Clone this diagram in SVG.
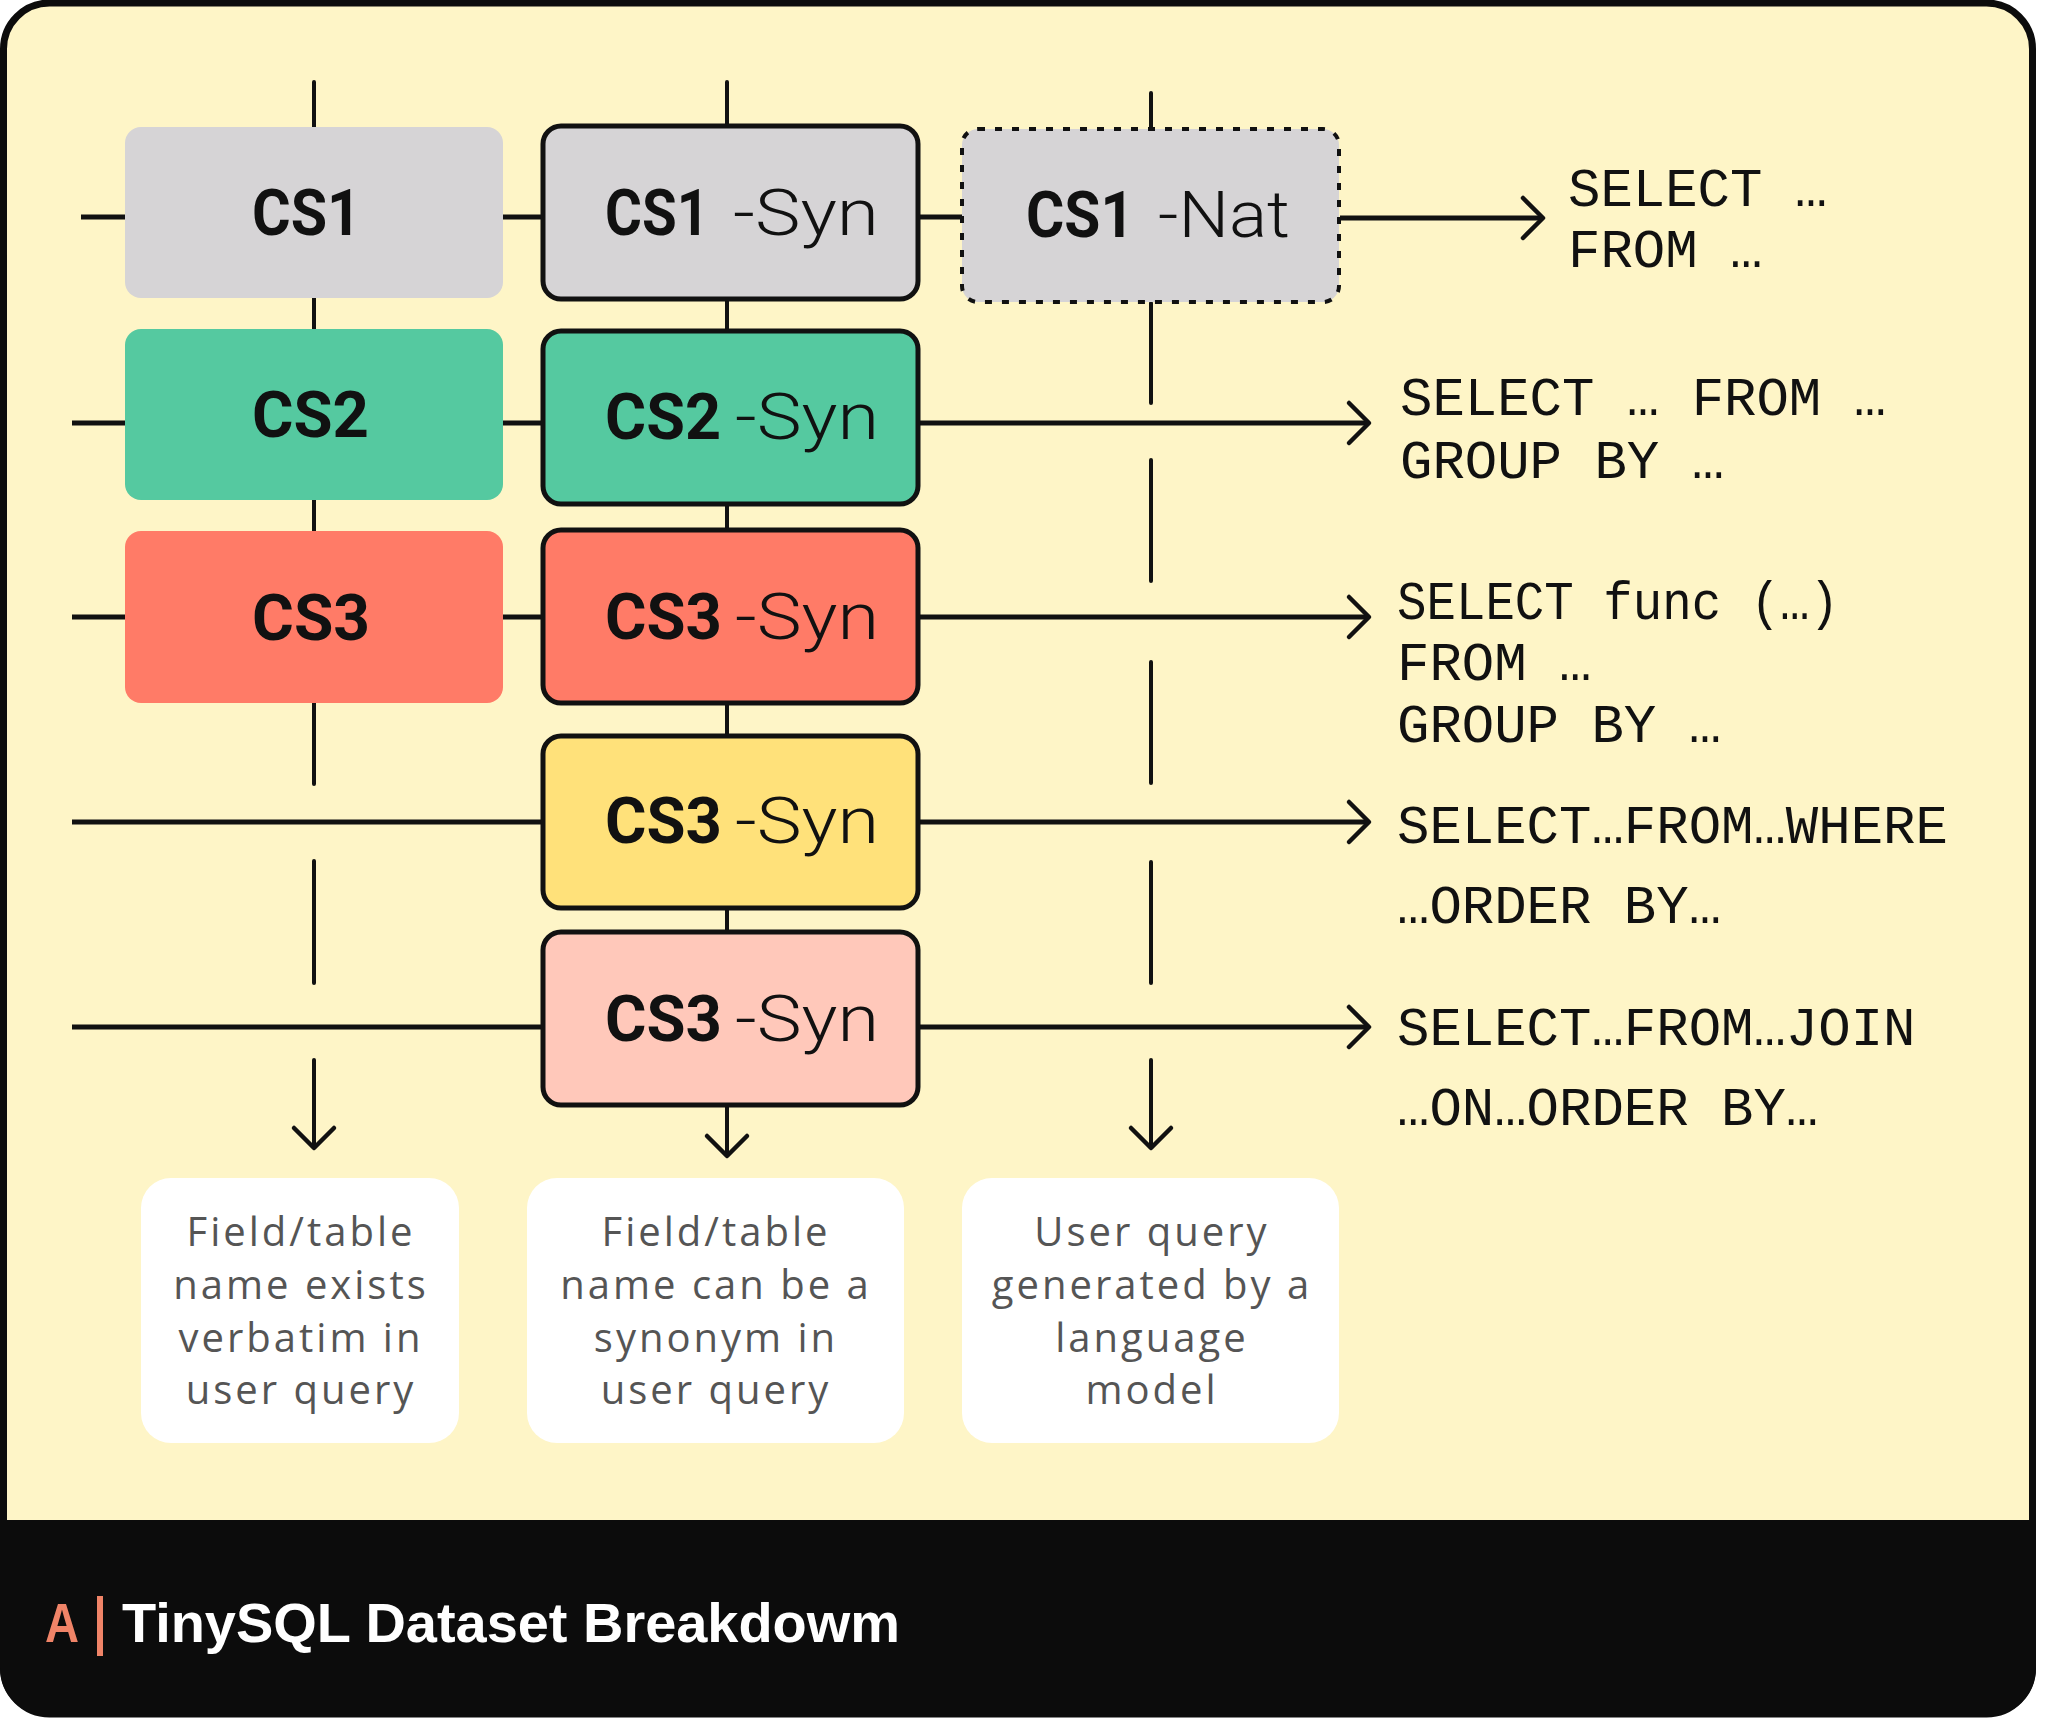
<svg xmlns="http://www.w3.org/2000/svg" width="2049" height="1718" viewBox="0 0 2049 1718">
<style>
.hl{stroke:#111;stroke-width:5;fill:none;stroke-linecap:butt}
.vl{stroke:#111;stroke-width:4;fill:none;stroke-linecap:round}
.hd{stroke:#111;stroke-width:4.5;fill:none;stroke-linecap:round;stroke-linejoin:round}
.sbox{stroke:#111;stroke-width:5}
.nat{stroke:#111;stroke-width:4;stroke-dasharray:7 10}
.cs{font-family:Roboto,"Liberation Sans",sans-serif;font-weight:700;font-size:64px;fill:#111}
.syn{font-family:Roboto,"Liberation Sans",sans-serif;font-weight:300;font-size:64px;fill:#111}
.sql{font-family:"Liberation Mono",monospace;font-size:54px;fill:#111}
.desc{font-family:"Open Sans",sans-serif;font-size:40px;letter-spacing:3px;fill:#555555;text-anchor:middle}
.gray{fill:#D6D4D6}
.teal{fill:#55C9A0}
.coral{fill:#FF7B67}
.yel{fill:#FFE17A}
.pink{fill:#FFC8BA}
</style>

<g id="frame">
<rect x="3.5" y="3" width="2029" height="1711" rx="46" fill="#FEF5C7" stroke="#0C0C0C" stroke-width="7"/>
<path d="M0 1520 H2036 V1668 A48 48 0 0 1 1988 1716 H48 A48 48 0 0 1 0 1668 Z" fill="#0C0C0C"/>
</g>

<g id="connectors">
<path class="vl" d="M314 82 V127 M314 298 V331 M314 500 V532 M314 703 V784 M314 861 V983 M314 1060 V1146"/>
<path class="hd" d="M294 1128 L314 1148 L334 1128"/>
<path class="vl" d="M727 82 V125 M727 300 V330 M727 505 V529 M727 704 V735 M727 909 V931 M727 1106 V1154"/>
<path class="hd" d="M707 1136 L727 1156 L747 1136"/>
<path class="vl" d="M1151 93 V128 M1151 303 V403 M1151 460 V581 M1151 662 V783 M1151 862 V983 M1151 1060 V1146"/>
<path class="hd" d="M1131 1128 L1151 1148 L1171 1128"/>
<path class="hl" d="M81 217 H125 M503 217 H541 M920 217 H962 M1340 218 H1541"/>
<path class="hd" d="M1523 198 L1543 218 L1523 238"/>
<path class="hl" d="M72 423 H125 M503 423 H541 M920 423 H1367"/>
<path class="hd" d="M1349 403 L1369 423 L1349 443"/>
<path class="hl" d="M72 617 H125 M503 617 H541 M920 617 H1367"/>
<path class="hd" d="M1349 597 L1369 617 L1349 637"/>
<path class="hl" d="M72 822 H541 M920 822 H1367"/>
<path class="hd" d="M1349 802 L1369 822 L1349 842"/>
<path class="hl" d="M72 1027 H541 M920 1027 H1367"/>
<path class="hd" d="M1349 1007 L1369 1027 L1349 1047"/>
</g>

<g id="cs1">
<rect class="gray" x="125" y="127" width="378" height="171" rx="16"/>
<text class="cs" x="252" y="235" textLength="109" lengthAdjust="spacingAndGlyphs">CS1</text>
</g>
<g id="cs2">
<rect class="teal" x="125" y="329" width="378" height="171" rx="16"/>
<text class="cs" x="252" y="437" textLength="117" lengthAdjust="spacingAndGlyphs">CS2</text>
</g>
<g id="cs3">
<rect class="coral" x="125" y="531" width="378" height="172" rx="16"/>
<text class="cs" x="252" y="640" textLength="118" lengthAdjust="spacingAndGlyphs">CS3</text>
</g>

<g id="cs1-syn">
<rect class="gray sbox" x="543" y="126" width="375" height="173" rx="18"/>
<text x="605" y="235"><tspan class="cs" textLength="104" lengthAdjust="spacingAndGlyphs">CS1</tspan><tspan class="syn" x="733" textLength="146" lengthAdjust="spacingAndGlyphs">-Syn</tspan></text>
</g>
<g id="cs2-syn">
<rect class="teal sbox" x="543" y="331" width="375" height="173" rx="18"/>
<text x="605" y="439"><tspan class="cs" textLength="116" lengthAdjust="spacingAndGlyphs">CS2</tspan><tspan class="syn" x="735" textLength="144" lengthAdjust="spacingAndGlyphs">-Syn</tspan></text>
</g>
<g id="cs3-syn">
<rect class="coral sbox" x="543" y="530" width="375" height="173" rx="18"/>
<text x="605" y="639"><tspan class="cs" textLength="117" lengthAdjust="spacingAndGlyphs">CS3</tspan><tspan class="syn" x="735" textLength="144" lengthAdjust="spacingAndGlyphs">-Syn</tspan></text>
</g>
<g id="cs3-syn-where">
<rect class="yel sbox" x="543" y="736" width="375" height="172" rx="18"/>
<text x="605" y="843"><tspan class="cs" textLength="117" lengthAdjust="spacingAndGlyphs">CS3</tspan><tspan class="syn" x="735" textLength="144" lengthAdjust="spacingAndGlyphs">-Syn</tspan></text>
</g>
<g id="cs3-syn-join">
<rect class="pink sbox" x="543" y="932" width="375" height="173" rx="18"/>
<text x="605" y="1041"><tspan class="cs" textLength="117" lengthAdjust="spacingAndGlyphs">CS3</tspan><tspan class="syn" x="735" textLength="144" lengthAdjust="spacingAndGlyphs">-Syn</tspan></text>
</g>

<g id="cs1-nat">
<rect class="gray nat" x="962" y="129" width="377" height="173" rx="16"/>
<text x="1026" y="237"><tspan class="cs" textLength="108" lengthAdjust="spacingAndGlyphs">CS1</tspan><tspan class="syn" x="1158" textLength="132" lengthAdjust="spacingAndGlyphs">-Nat</tspan></text>
</g>

<g id="sql1">
<text class="sql" x="1568" y="206">SELECT …</text>
<text class="sql" x="1568" y="267">FROM …</text>
</g>
<g id="sql2">
<text class="sql" x="1400" y="415">SELECT … FROM …</text>
<text class="sql" x="1400" y="478">GROUP BY …</text>
</g>
<g id="sql3">
<text class="sql" x="1397" y="619" textLength="442" lengthAdjust="spacingAndGlyphs">SELECT func (…)</text>
<text class="sql" x="1397" y="680">FROM …</text>
<text class="sql" x="1397" y="742">GROUP BY …</text>
</g>
<g id="sql4">
<text class="sql" x="1397" y="843">SELECT…FROM…WHERE</text>
<text class="sql" x="1397" y="923">…ORDER BY…</text>
</g>
<g id="sql5">
<text class="sql" x="1397" y="1045">SELECT…FROM…JOIN</text>
<text class="sql" x="1397" y="1125">…ON…ORDER BY…</text>
</g>

<g id="desc1">
<rect x="141" y="1178" width="318" height="265" rx="30" fill="#FFFFFF"/>
<text class="desc" x="301" y="1246">Field/table</text>
<text class="desc" x="301" y="1299">name exists</text>
<text class="desc" x="301" y="1352">verbatim in</text>
<text class="desc" x="301" y="1404">user query</text>
</g>
<g id="desc2">
<rect x="527" y="1178" width="377" height="265" rx="30" fill="#FFFFFF"/>
<text class="desc" x="716" y="1246">Field/table</text>
<text class="desc" x="716" y="1299">name can be a</text>
<text class="desc" x="716" y="1352">synonym in</text>
<text class="desc" x="716" y="1404">user query</text>
</g>
<g id="desc3">
<rect x="962" y="1178" width="377" height="265" rx="30" fill="#FFFFFF"/>
<text class="desc" x="1152" y="1246">User query</text>
<text class="desc" x="1152" y="1299">generated by a</text>
<text class="desc" x="1152" y="1352">language</text>
<text class="desc" x="1152" y="1404">model</text>
</g>

<g id="footer">
<text x="45" y="1642" font-family="'Liberation Sans',sans-serif" font-weight="700" font-size="56" fill="#F08468" textLength="34" lengthAdjust="spacingAndGlyphs">A</text>
<rect x="97" y="1596" width="6" height="60" fill="#F08468"/>
<text x="122" y="1642" font-family="'Liberation Sans',sans-serif" font-weight="700" font-size="56" fill="#FFFFFF" textLength="778" lengthAdjust="spacingAndGlyphs">TinySQL Dataset Breakdowm</text>
</g>
</svg>
